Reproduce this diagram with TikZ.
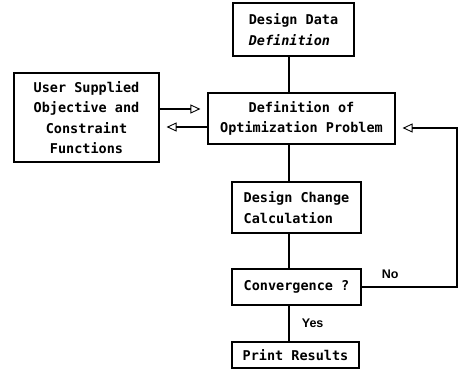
\documentclass[tikz,border=0pt]{standalone}
\usepackage{fontspec}
\setmonofont{DejaVu Sans Mono}
\newfontfamily\lblfont{Liberation Sans}
\usetikzlibrary{arrows.meta}

\tikzset{
  box/.style={draw, line width=1.1pt, inner sep=0pt, font=\ttfamily\bfseries\fontsize{13.5}{20.5}\selectfont},
  link/.style={line width=1.1pt},
  flow/.style={line width=1.1pt, -{Triangle[open,length=10pt,width=9pt,line width=0.9pt]}, shorten >=7pt},
  tag/.style={font=\lblfont\bfseries\fontsize{12.5}{14}\selectfont}
}

\begin{document}
\begin{tikzpicture}[x=1pt,y=-1pt]
\useasboundingbox (0,0) rectangle (459,380);

% boxes of the flow chart
\node[box, minimum width=121pt, minimum height=53pt, align=left] (data) at (293.5,29.5) {Design Data\\\itshape Definition};
\node[box, minimum width=187pt, minimum height=51pt, align=center] (defn) at (301.5,118.5) {Definition of\\Optimization Problem};
\node[box, minimum width=145pt, minimum height=89pt, align=center] (user) at (86.5,117.5) {User Supplied\\Objective and\\Constraint\\Functions};
\node[box, minimum width=129pt, minimum height=51pt, align=left] (change) at (296.5,207.5) {Design Change\\Calculation};
\node[box, minimum width=129pt, minimum height=36pt] (conv) at (296.5,287) {Convergence ?};
\node[box, minimum width=127pt, minimum height=26pt] (print) at (295.5,355) {Print Results};

\coordinate (spine) at (289,0);
\coordinate (loop) at (457,0);

% main line down the middle
\draw[link] (data.south -| spine) -- (defn.north -| spine);
\draw[link] (defn.south -| spine) -- (change.north -| spine);
\draw[link] (change.south -| spine) -- (conv.north -| spine);
\draw[link] (conv.south -| spine) -- node[tag, right=9pt] {Yes} (print.north -| spine);

% user functions in and out
\draw[flow] ([yshift=8.5pt]user.east) -- ([yshift=8.5pt]user.east -| defn.west);
\draw[flow] ([yshift=-8.5pt]defn.west) -- ([yshift=-8.5pt]defn.west -| user.east);

% back to the problem when not converged
\draw[flow] (conv.east) -- node[tag, pos=0.3, above=4pt] {No} (conv.east -| loop)
  |- ([yshift=-9.5pt]defn.east);
\end{tikzpicture}
\end{document}
